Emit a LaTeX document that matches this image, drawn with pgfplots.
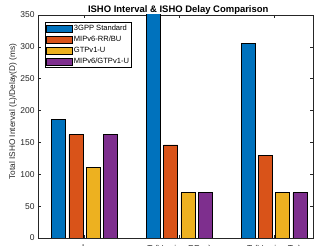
\documentclass[border=0pt]{standalone}
\usepackage{pgfplots}
\pgfplotsset{compat=1.18}
\usepackage{fontspec}
\setmainfont{Liberation Sans}
\definecolor{mblue}{rgb}{0,0.447,0.741}
\definecolor{morange}{rgb}{0.85,0.325,0.098}
\definecolor{myellow}{rgb}{0.929,0.694,0.125}
\definecolor{mpurple}{rgb}{0.494,0.184,0.556}
\definecolor{axgray}{rgb}{0.15,0.15,0.15}
\begin{document}
\begin{tikzpicture}
\path[use as bounding box] (-38bp,-8bp) rectangle (282bp,238bp);
\clip (-38bp,-8bp) rectangle (282bp,238bp);
\begin{axis}[
  at={(0,0)}, anchor=south west,
  scale only axis, width=275bp, height=223bp,
  xmin=0.509, xmax=3.411, ymin=0, ymax=350,
  clip=true,
  xtick={1,2,3},
  xticklabels={L, T (Varying RR$_{bu}$), T (Varying T$_{u}$)},
  ytick={0,50,...,350},
  tick align=inside, major tick length=3bp,
  xtick pos=both, ytick pos=both,
  axis line style={draw=axgray, line width=0.7bp},
  tick style={draw=axgray, line width=0.6bp},
  /pgf/number format/assume math mode=true,
  ticklabel style={font=\fontsize{8.5}{9}\selectfont, text=axgray},
  xticklabel style={yshift=-3.5bp},
  title={ISHO Interval \& ISHO Delay Comparison},
  title style={font=\bfseries\fontsize{9.5}{10}\selectfont, at={(axis description cs:0.51,1)}, anchor=base, yshift=-3bp},
  ylabel={Total ISHO Interval (L)/Delay(D) (ms)},
  ylabel style={font=\fontsize{8.3}{9}\selectfont, at={(axis description cs:-0.091,0.567)}, anchor=center, text=axgray},
  bar width=0.148,
  every axis plot/.append style={ybar, draw=black, line width=0.6bp},
  legend image code/.code={\draw[#1, draw=black, line width=0.6bp] (0bp,-3.5bp) rectangle (26bp,3.5bp);},
  legend cell align=left,
  legend style={at={(0.0255,0.9686)}, anchor=north west, draw=black, line width=0.6bp,
    font=\fontsize{7.6}{8}\selectfont, inner xsep=1bp, inner ysep=1bp,
    row sep=1bp,
    nodes={inner sep=1bp, text height=6bp, text depth=2bp},
    /tikz/every even column/.style={column sep=0bp}},
]
\addplot[fill=mblue, bar shift=-0.272] coordinates {(1,186) (2,380) (3,305)};
\addplot[fill=morange, bar shift=-0.0907] coordinates {(1,162) (2,146) (3,130)};
\addplot[fill=myellow, bar shift=0.0907] coordinates {(1,111) (2,71) (3,71)};
\addplot[fill=mpurple, bar shift=0.272] coordinates {(1,162) (2,71) (3,71)};
\legend{3GPP Standard, MIPv6-RR/BU, GTPv1-U, MIPv6/GTPv1-U}
\end{axis}
\end{tikzpicture}
\end{document}
